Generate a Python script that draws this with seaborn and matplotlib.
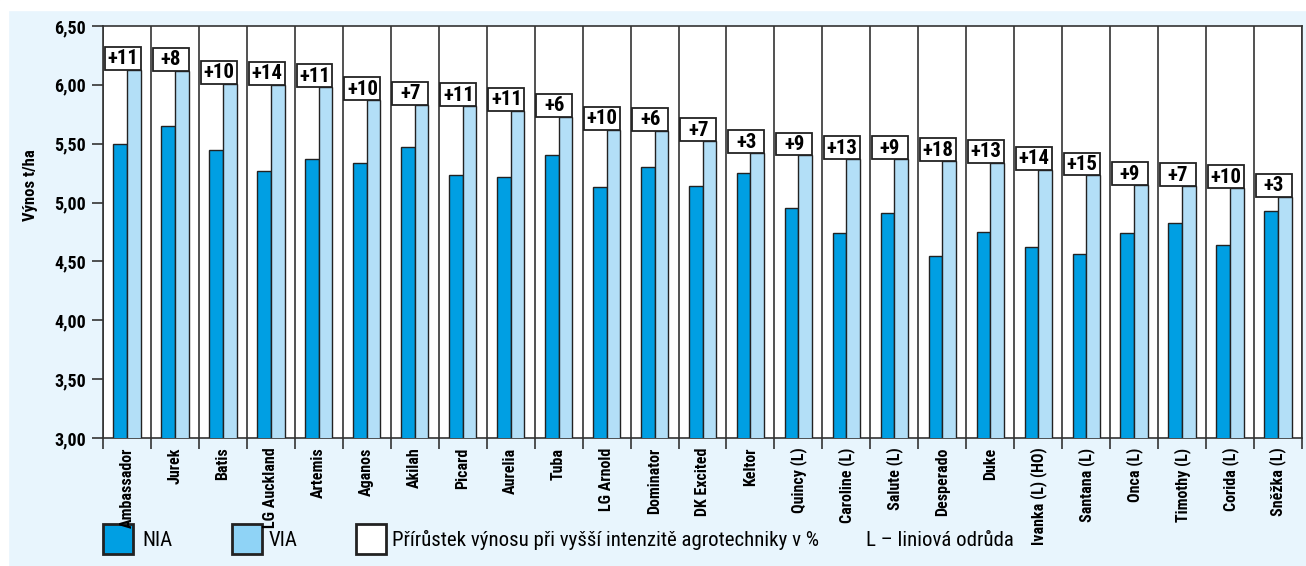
import os
import pandas as pd
import matplotlib
matplotlib.use("Agg")
import matplotlib.pyplot as plt
import matplotlib.font_manager as fm
import seaborn as sns
from matplotlib.patches import Rectangle
from matplotlib.ticker import FuncFormatter, MultipleLocator

# ------------------------------
# Data
# ------------------------------
odrudy = ["Ambassador", "Jurek", "Batis", "LG Auckland", "Artemis", "Aganos", "Akilah",
          "Picard", "Aurelia", "Tuba", "LG Arnold", "Dominator", "DK Excited", "Keltor",
          "Quincy (L)", "Caroline (L)", "Salute (L)", "Desperado", "Duke", "Ivanka (L) (HO)",
          "Santana (L)", "Onca (L)", "Timothy (L)", "Corida (L)", "Sněžka (L)"]
nia = [5.50, 5.65, 5.45, 5.27, 5.37, 5.34, 5.47, 5.23, 5.22, 5.40, 5.13, 5.30, 5.14, 5.25,
       4.95, 4.74, 4.91, 4.55, 4.75, 4.62, 4.56, 4.74, 4.83, 4.64, 4.93]
via = [6.13, 6.12, 6.01, 6.00, 5.98, 5.87, 5.83, 5.82, 5.78, 5.73, 5.62, 5.61, 5.52, 5.42,
       5.40, 5.37, 5.37, 5.35, 5.34, 5.28, 5.23, 5.15, 5.14, 5.12, 5.05]
prirustek = [11, 8, 10, 14, 11, 10, 7, 11, 11, 6, 10, 6, 7, 3, 9, 13, 9, 18, 13, 14, 15, 9, 7, 10, 3]

df = pd.DataFrame({
    "odruda": odrudy * 2,
    "vynos": nia + via,
    "typ": ["NIA"] * len(nia) + ["VIA"] * len(via),
})

# colours
c_nia = "#009fe3"
c_via = "#b3dff7"
c_via_leg = "#8fd3f6"
bg = "#e8f5fd"
edge = "#222222"


# ------------------------------
# Fonts - look for a narrow face (source uses a condensed font)
# ------------------------------
def find_font(names):
    files = set(fm.findSystemFonts()) | {f.fname for f in fm.fontManager.ttflist}
    by_base = {os.path.basename(f).lower(): f for f in files}
    for n in names:
        if n.lower() in by_base:
            return fm.FontProperties(fname=by_base[n.lower()])
    return None


fp_bold = find_font(["LiberationSansNarrow-Bold.ttf", "RobotoCondensed-Bold.ttf",
                     "DejaVuSansCondensed-Bold.ttf", "OpenSans_Condensed-Bold.ttf"])
fp_reg = find_font(["LiberationSansNarrow-Regular.ttf", "RobotoCondensed-Regular.ttf",
                    "DejaVuSansCondensed.ttf", "OpenSans_Condensed-Regular.ttf"])
if fp_bold is None:
    fp_bold = fm.FontProperties(family="DejaVu Sans", weight="bold", stretch="condensed")
if fp_reg is None:
    fp_reg = fm.FontProperties(family="DejaVu Sans", stretch="condensed")


def fp(base, size):
    p = base.copy()
    p.set_size(size)
    return p


sns.set_theme(style="white")
plt.rcParams["font.family"] = ["DejaVu Sans"]
plt.rcParams["text.color"] = "black"

fig = plt.figure(figsize=(13.06, 5.66), dpi=100)
fig.set_facecolor(bg)
# white margins on top / left as in the source image
fig.patches.append(Rectangle((0, 0), 8 / 1306, 1, transform=fig.transFigure, color="white", zorder=-1))
fig.patches.append(Rectangle((0, 1 - 10 / 566), 1, 10 / 566, transform=fig.transFigure, color="white", zorder=-1))

ax = fig.add_axes([103 / 1306, 1 - 438 / 566, (1302 - 103) / 1306, (438 - 26) / 566])
ax.set_facecolor("white")

sns.barplot(data=df, x="odruda", y="vynos", hue="typ", palette=[c_nia, c_via], saturation=1,
            width=0.57, edgecolor=edge, linewidth=1.0, legend=False, ax=ax, zorder=3)

ax.set_ylim(3.0, 6.5)
ax.set_xlim(-0.5, len(odrudy) - 0.5)
ax.yaxis.set_major_locator(MultipleLocator(0.5))
ax.yaxis.set_major_formatter(FuncFormatter(lambda v, p: f"{v:.2f}".replace(".", ",")))

# category separators + boundary ticks
ax.set_xticks([i - 0.5 for i in range(len(odrudy) + 1)], minor=True)
ax.grid(True, which="minor", axis="x", color="#333333", linewidth=1.2, zorder=1)
ax.grid(False, which="major")
ax.tick_params(axis="x", which="major", length=0, pad=7, labelcolor="black")
ax.tick_params(axis="x", which="minor", length=8, width=1.2, color="#333333", direction="out", bottom=True)
ax.tick_params(axis="y", length=8, width=1.2, color="#333333", direction="out", left=True, pad=4,
               labelcolor="black")
ax.set_xticks(range(len(odrudy)))
ax.set_xticklabels(odrudy, rotation=90, va="top", ha="center")
for lbl in ax.get_xticklabels():
    lbl.set_fontproperties(fp(fp_bold, 11.5))
for lbl in ax.get_yticklabels():
    lbl.set_fontproperties(fp(fp_bold, 13))
ax.set_xlabel("")
ax.set_ylabel("")
for s in ax.spines.values():
    s.set_color("#333333")
    s.set_linewidth(1.2)

# gain boxes above VIA bars
box_w, box_h = 0.75, 0.195
for i, (v, g) in enumerate(zip(via, prirustek)):
    x0 = i + 0.285 - box_w
    ax.add_patch(Rectangle((x0, v), box_w, box_h, facecolor="white", edgecolor=edge,
                           linewidth=1.3, zorder=4))
    ax.text(x0 + box_w / 2, v + box_h / 2 - 0.005, f"+{g}", ha="center", va="center",
            fontproperties=fp(fp_bold, 15), zorder=5)

fig.text(30 / 1306, 1 - 185 / 566, "Výnos t/ha", rotation=90, ha="center", va="center",
         fontproperties=fp(fp_bold, 12))

# legend row
leg_y = 1 - 554 / 566
sq_w, sq_h = 30 / 1306, 30 / 566
renderer = fig.canvas.get_renderer()
txt_y = leg_y + sq_h / 2 - 1 / 566

# size the long legend text so it spans the same width as in the source
long_txt = fig.text(392 / 1306, txt_y, "Přírůstek výnosu při vyšší intenzitě agrotechniky v %",
                    ha="left", va="center", fontproperties=fp(fp_reg, 17))
w = long_txt.get_window_extent(renderer).width
leg_size = 17 * min(1.0, 428 / w)
long_txt.set_fontsize(leg_size)

for x_sq, col in [(103, c_nia), (232, c_via_leg), (356, "white")]:
    fig.patches.append(Rectangle((x_sq / 1306, leg_y), sq_w, sq_h, transform=fig.transFigure,
                                 facecolor=col, edgecolor=edge, linewidth=2, zorder=-0.5))
for x_txt, txt in [(142, "NIA"), (269, "VIA"), (866, "L – liniová odrůda")]:
    fig.text(x_txt / 1306, txt_y, txt, ha="left", va="center", fontproperties=fp(fp_reg, leg_size))

fig.savefig("out.png", dpi=100, facecolor=fig.get_facecolor())
